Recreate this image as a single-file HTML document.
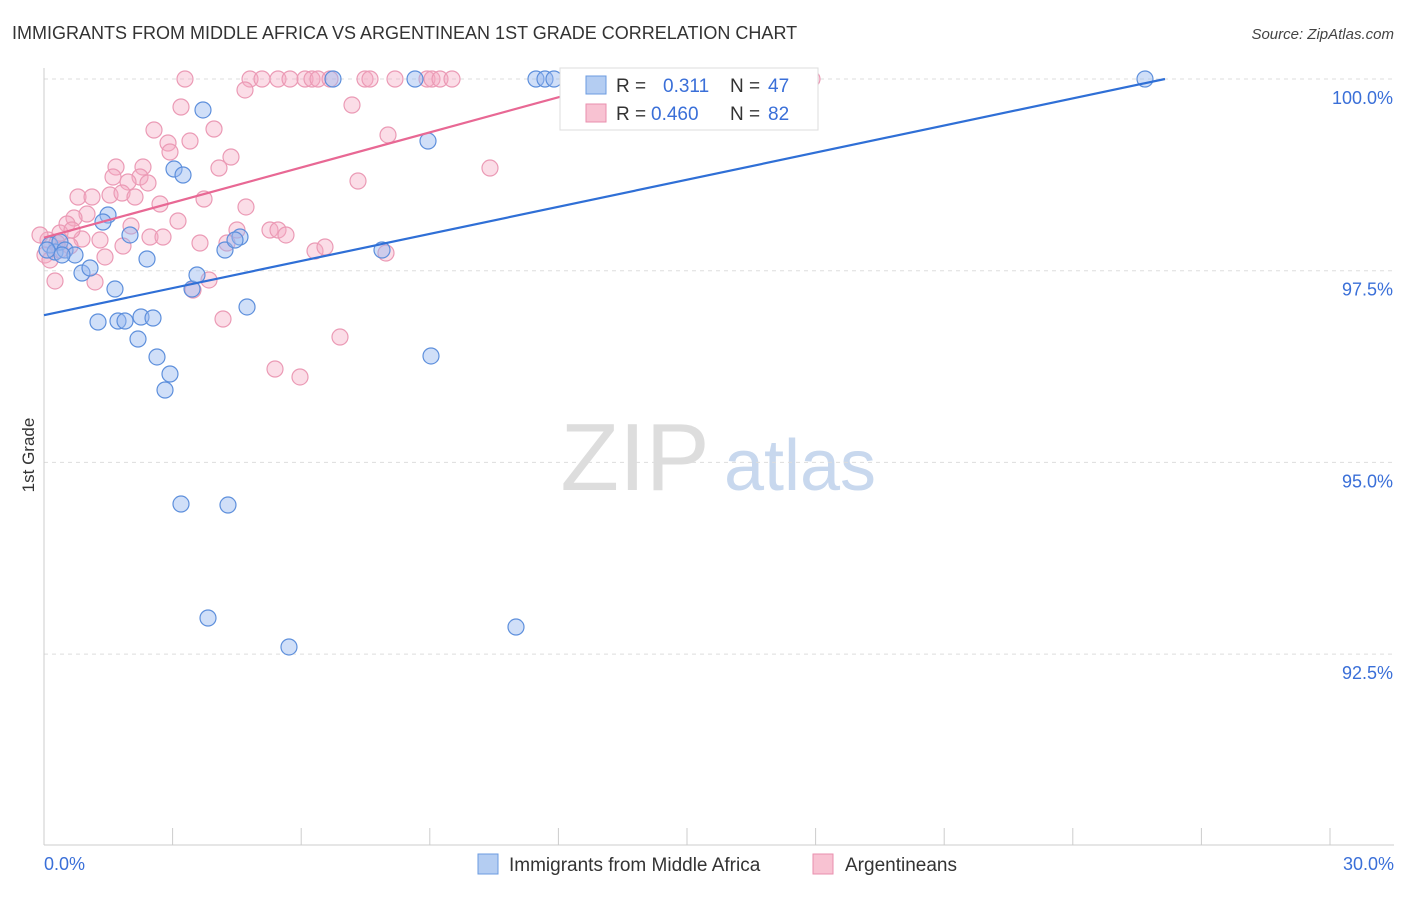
<!DOCTYPE html>
<html><head><meta charset="utf-8"><style>
body{margin:0;background:#fff;font-family:"Liberation Sans",sans-serif}
svg text{font-family:"Liberation Sans",sans-serif}
</style></head><body>
<svg id="chart" width="1406" height="892" xmlns="http://www.w3.org/2000/svg">
<text x="12" y="39" font-size="18" fill="#333">IMMIGRANTS FROM MIDDLE AFRICA VS ARGENTINEAN 1ST GRADE CORRELATION CHART</text>
<text x="1394" y="39" font-size="15" fill="#444" text-anchor="end" font-style="italic">Source: ZipAtlas.com</text>
<text transform="translate(34,455) rotate(-90)" font-size="17" fill="#333" text-anchor="middle">1st Grade</text>
<g><text x="635" y="490" font-size="96" fill="#ddd" text-anchor="middle" font-family="Liberation Serif">ZIP</text><text x="800" y="490" font-size="72" fill="#c8d8ee" text-anchor="middle">atlas</text></g>
<g id="grid"></g><g id="axes"></g><g id="pts"></g><g id="trend"></g>
<g>
<rect x="560" y="68" width="258" height="62" fill="#fff" stroke="#ddd"/>
<rect x="586" y="76" width="20" height="18" fill="#b4cdf2" stroke="#6b9be0"/>
<text x="616" y="92" font-size="19" fill="#333">R =</text><text x="663" y="92" font-size="19" fill="#3a6fd8">0.311</text>
<text x="730" y="92" font-size="19" fill="#333">N =</text><text x="768" y="92" font-size="19" fill="#3a6fd8">47</text>
<rect x="586" y="104" width="20" height="18" fill="#f8c2d2" stroke="#e98fae"/>
<text x="616" y="120" font-size="19" fill="#333">R =</text><text x="651" y="120" font-size="19" fill="#3a6fd8">0.460</text>
<text x="730" y="120" font-size="19" fill="#333">N =</text><text x="768" y="120" font-size="19" fill="#3a6fd8">82</text>
</g>
<g>
<rect x="478" y="854" width="20" height="20" fill="#b4cdf2" stroke="#6b9be0"/>
<text x="509" y="871" font-size="19" fill="#333">Immigrants from Middle Africa</text>
<rect x="813" y="854" width="20" height="20" fill="#f8c2d2" stroke="#e98fae"/>
<text x="845" y="871" font-size="19" fill="#333">Argentineans</text>
</g>
</svg>
<script>
const yTicks=[100,97.5,95,92.5];
const yTickLabels=["100.0%","97.5%","95.0%","92.5%"];
const xTickLabels=["0.0%","30.0%"];
const bluePx=[[50,245],[55,252],[60,242],[65,250],[75,255],[82,273],[90,268],[98,322],[108,215],[103,222],[115,289],[118,321],[125,321],[130,235],[138,339],[141,317],[147,259],[153,318],[157,357],[165,390],[170,374],[174,169],[183,175],[181,504],[192,289],[197,275],[203,110],[208,618],[225,250],[228,505],[240,237],[247,307],[289,647],[333,79],[382,250],[415,79],[428,141],[431,356],[516,627],[536,79],[545,79],[554,79],[668,79],[1145,79],[47,250],[62,255],[235,240]];
const pinkPx=[[185,79],[250,79],[262,79],[278,79],[290,79],[305,79],[312,79],[318,79],[330,79],[365,79],[370,79],[395,79],[427,79],[432,79],[440,79],[452,79],[812,79],[245,90],[181,107],[352,105],[214,129],[154,130],[168,143],[190,141],[170,152],[388,135],[231,157],[116,167],[143,167],[219,168],[490,168],[113,177],[140,177],[128,182],[148,183],[358,181],[78,197],[92,197],[110,195],[122,193],[135,197],[160,204],[204,199],[246,207],[87,214],[74,218],[178,221],[131,226],[67,224],[60,233],[48,240],[82,239],[57,243],[70,246],[150,237],[163,237],[237,230],[270,230],[278,230],[286,235],[227,243],[200,243],[123,246],[105,257],[315,251],[325,247],[386,253],[95,282],[55,281],[209,280],[193,290],[223,319],[340,337],[275,369],[300,377],[585,100],[45,255],[40,235],[100,240],[50,260],[60,250],[72,230]];
// convert read pixel positions into data values (x %, y %)
const blueX=bluePx.map(p=>+((p[0]-44)/1286*30).toFixed(3));
const blueY=bluePx.map(p=>+(100-(p[1]-79)/76.68).toFixed(3));
const pinkX=pinkPx.map(p=>+((p[0]-44)/1286*30).toFixed(3));
const pinkY=pinkPx.map(p=>+(100-(p[1]-79)/76.68).toFixed(3));
const blueTrend=[[0,96.92],[26.15,100]];
const pinkTrend=[[0,97.93],[12.97,99.91]];
const NS="http://www.w3.org/2000/svg";
const X=v=>44+v/30*1286, Y=v=>79+(100-v)*76.68;
function mk(t,a,p){const e=document.createElementNS(NS,t);for(const k in a)e.setAttribute(k,a[k]);p.appendChild(e);return e;}
const grid=document.getElementById('grid'),axes=document.getElementById('axes');
yTicks.forEach((t,i)=>{
 const l=mk('line',{x1:44,x2:1394,y1:Y(t),y2:Y(t),stroke:'#ddd','stroke-dasharray':'4,4'},grid);
 
 
 const tx=mk('text',{x:1393,y:Y(t)+25,'font-size':18,fill:'#3a6fd8','text-anchor':'end'},axes);
 tx.textContent=yTickLabels[i];
 
 
});
const xa=mk('line',{x1:44,x2:1394,y1:845,y2:845,stroke:'#ccc'},axes);


const ya=mk('line',{x1:44,x2:44,y1:68,y2:845,stroke:'#ccc'},axes);


for(let i=0;i<=10;i++){const t=mk('line',{x1:X(i*3),x2:X(i*3),y1:828,y2:845,stroke:'#ccc'},axes);
 
 }
[[0,44,'start'],[30,1394,'end']].forEach((d,i)=>{const t=mk('text',{x:d[1],y:870,'font-size':18,fill:'#3a6fd8','text-anchor':d[2]},axes);t.textContent=xTickLabels[i];
 
 });
const pts=document.getElementById('pts');
pinkX.forEach((x,i)=>{const c=mk('circle',{cx:X(x),cy:Y(pinkY[i]),r:8,fill:'rgba(245,170,195,0.4)',stroke:'#eb9ab5','stroke-width':1.2},pts);
 
 });
blueX.forEach((x,i)=>{const c=mk('circle',{cx:X(x),cy:Y(blueY[i]),r:8,fill:'rgba(150,185,240,0.45)',stroke:'#5d8fdc','stroke-width':1.2},pts);
 
 });
const tr=document.getElementById('trend');
const bl=mk('line',{x1:X(blueTrend[0][0]),y1:Y(blueTrend[0][1]),x2:X(blueTrend[1][0]),y2:Y(blueTrend[1][1]),stroke:'#2f6fd6','stroke-width':2.2},tr);


const pl=mk('line',{x1:X(pinkTrend[0][0]),y1:Y(pinkTrend[0][1]),x2:X(pinkTrend[1][0]),y2:Y(pinkTrend[1][1]),stroke:'#e86894','stroke-width':2.2},tr);


</script>
</body></html>
